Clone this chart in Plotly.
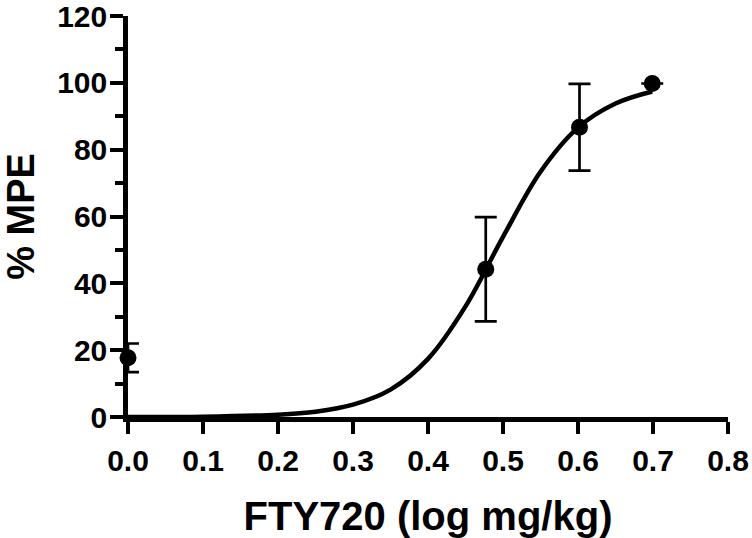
import plotly.graph_objects as go

# Data points (log dose, %MPE, SEM)
dose_log = [0.0, 0.477, 0.602, 0.699]
mpe = [17.7, 44.2, 86.7, 99.8]
mpe_err = [4.3, 15.6, 13.0, 0.0]

# Fitted curve
curve_x = [0.0, 0.1, 0.2, 0.25, 0.3, 0.35, 0.4, 0.45, 0.5, 0.55, 0.6, 0.65, 0.699]
curve_y = [0.0, 0.1, 0.7, 1.6, 3.7, 8.2, 17.4, 33.1, 53.9, 73.4, 86.6, 93.8, 97.4]

x_ticks = [0.0, 0.1, 0.2, 0.3, 0.4, 0.5, 0.6, 0.7, 0.8]
x_tick_labels = ["0.0", "0.1", "0.2", "0.3", "0.4", "0.5", "0.6", "0.7", "0.8"]
y_ticks = [0, 20, 40, 60, 80, 100, 120]

FONT = "Liberation Sans"

fig = go.Figure()
fig.add_trace(go.Scatter(
    x=curve_x, y=curve_y, mode="lines",
    line=dict(color="black", width=4.5, shape="spline"),
    cliponaxis=False, hoverinfo="skip", showlegend=False))
fig.add_trace(go.Scatter(
    x=dose_log, y=mpe, mode="markers",
    marker=dict(color="black", size=17),
    error_y=dict(type="data", array=mpe_err, visible=True,
                 color="black", thickness=2.7, width=11),
    cliponaxis=False, showlegend=False))

fig.update_layout(
    width=752, height=538,
    margin=dict(l=128, r=24, t=16, b=121),
    paper_bgcolor="white", plot_bgcolor="white",
    font=dict(family=FONT, color="black"),
)
fig.update_xaxes(
    range=[0, 0.8], tickvals=x_ticks, ticktext=x_tick_labels, automargin=False,
    showgrid=False, zeroline=False, showline=True, linecolor="black", linewidth=4.5,
    ticks="outside", ticklen=12, tickwidth=4, tickcolor="black",
    ticklabeloverflow="allow", ticklabelstandoff=1,
    tickfont=dict(family=FONT, size=30, color="black", weight="bold"),
    title=dict(text="<b>FTY720 (log mg/kg)</b>", font=dict(family=FONT, size=40, color="black"),
               standoff=30),
)
fig.update_yaxes(
    range=[0, 120], tickvals=y_ticks, automargin=False,
    showgrid=False, zeroline=False, showline=True, linecolor="black", linewidth=4.5,
    ticks="outside", ticklen=13, tickwidth=4, tickcolor="black",
    ticklabeloverflow="allow", ticklabelstandoff=-3,
    tickfont=dict(family=FONT, size=30, color="black", weight="bold"),
    minor=dict(ticks="outside", ticklen=8, tickwidth=4, tickcolor="black",
               tickvals=[10, 30, 50, 70, 90, 110], showgrid=False),
    title=dict(text="<b>% MPE</b>", font=dict(family=FONT, size=38, color="black"),
               standoff=12),
)

# remove the browser's default 8px body margin so the figure fills the window
fig.write_html("out.html", config={"displayModeBar": False},
               post_script="document.body.style.margin='0';document.body.style.overflow='hidden';")
